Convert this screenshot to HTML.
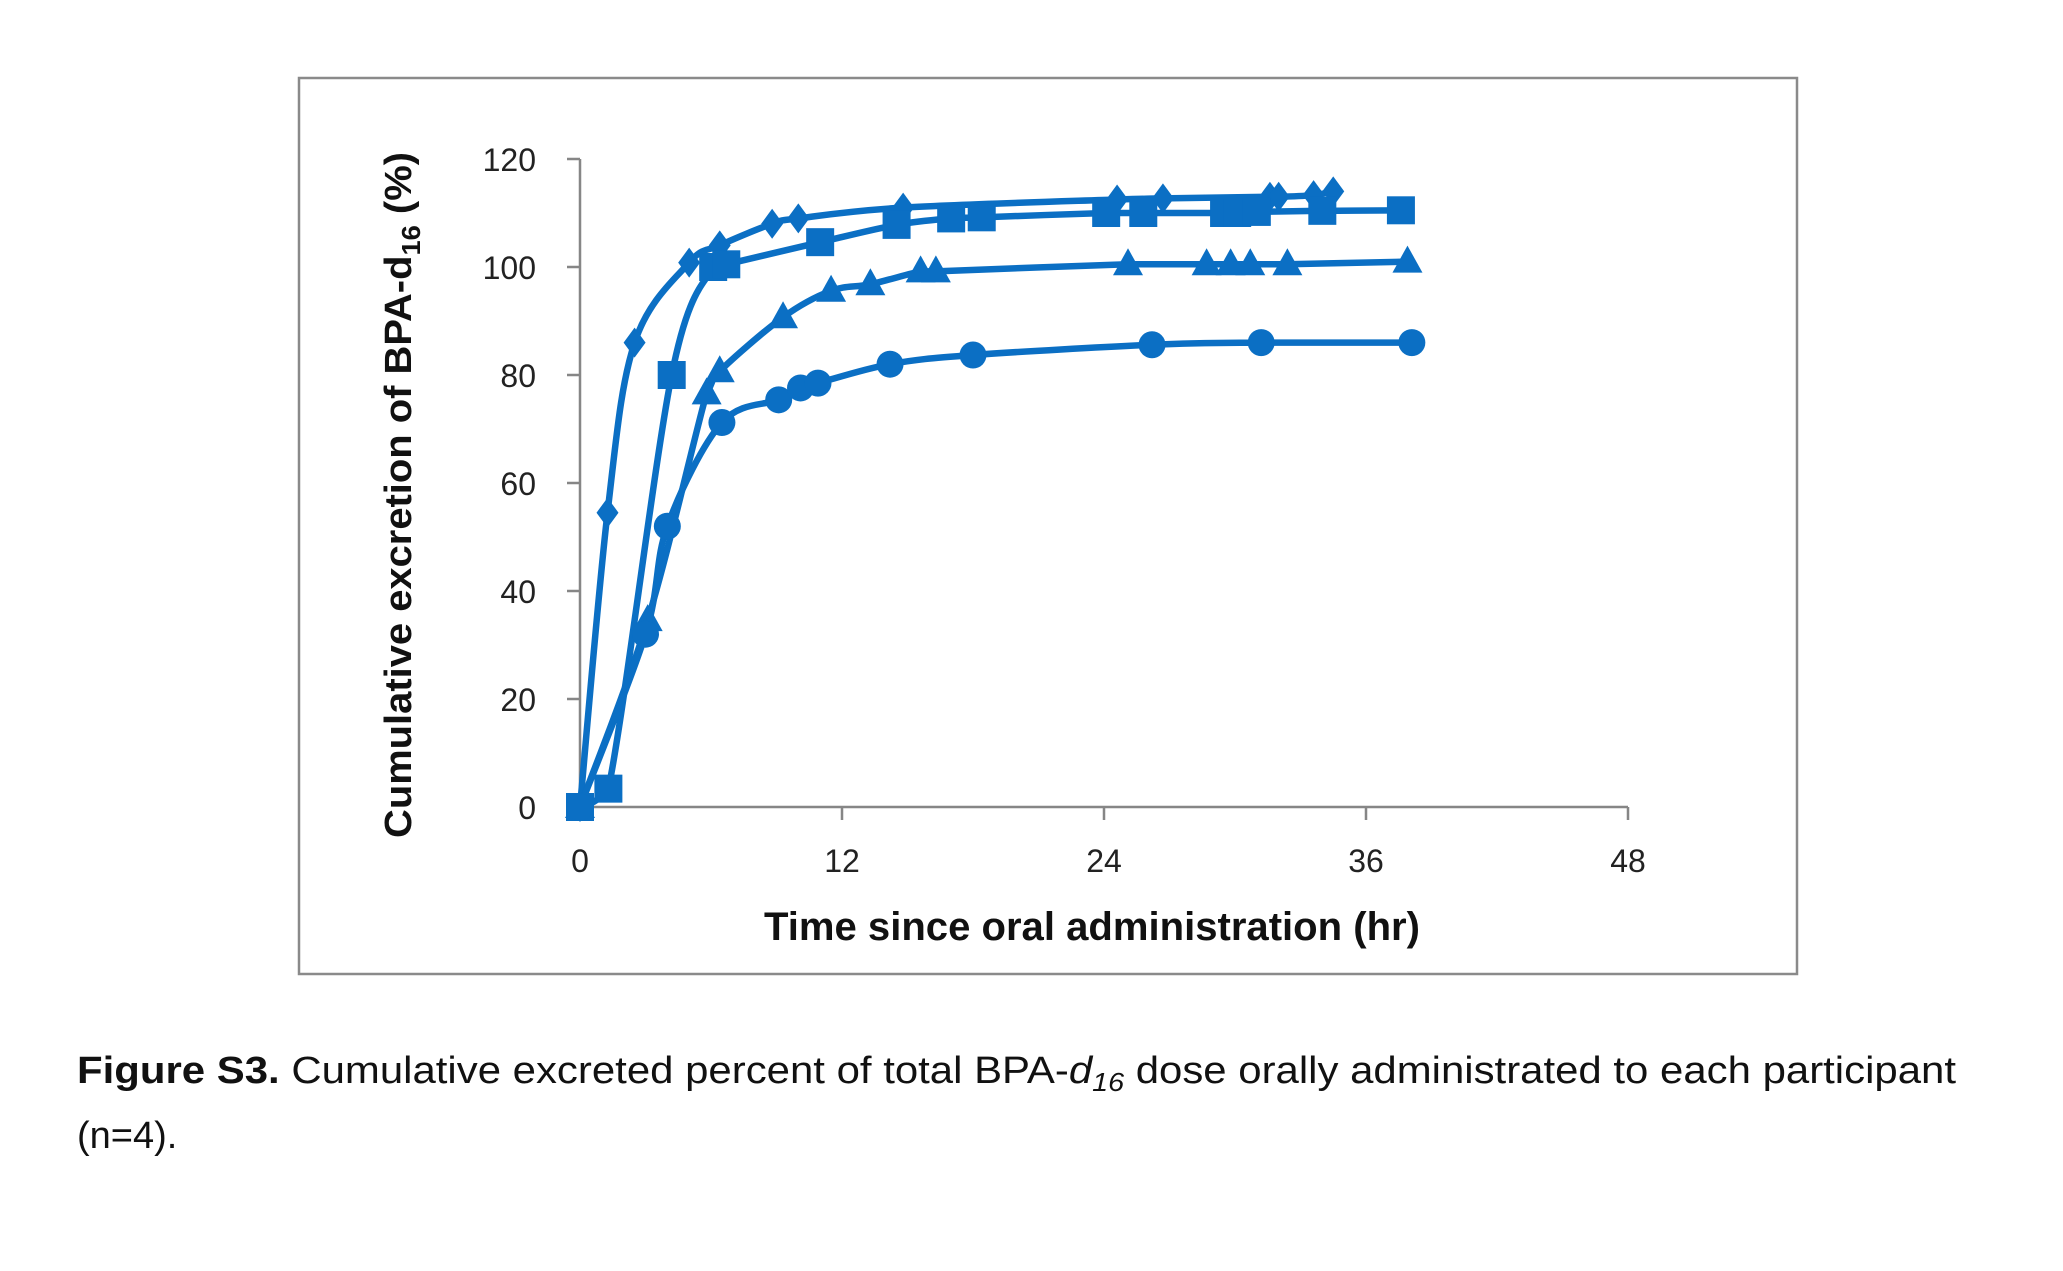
<!DOCTYPE html>
<html><head><meta charset="utf-8"><style>
html,body{margin:0;padding:0;background:#fff;}
svg{display:block;}
text{font-family:"Liberation Sans",sans-serif;}
</style></head><body>
<svg id="s" width="2063" height="1271" viewBox="0 0 2063 1271" xmlns="http://www.w3.org/2000/svg">
<rect x="0" y="0" width="2063" height="1271" fill="#fff"/>
<rect x="299" y="78" width="1498" height="896" fill="none" stroke="#8a8a8a" stroke-width="2.5"/>
<g stroke="#868686" stroke-width="2.5" fill="none">
<path d="M580 159 V807 H1628"/>
<path d="M567 159 H580 M567 267 H580 M567 375 H580 M567 483 H580 M567 591 H580 M567 699 H580 M567 807 H580"/>
<path d="M580 807 V820 M842 807 V820 M1104 807 V820 M1366 807 V820 M1628 807 V820"/>
</g>
<g font-size="32" fill="#222" text-anchor="end">
<text x="536" y="171">120</text><text x="536" y="279">100</text><text x="536" y="387">80</text>
<text x="536" y="495">60</text><text x="536" y="603">40</text><text x="536" y="711">20</text><text x="536" y="819">0</text>
</g>
<g font-size="32" fill="#222" text-anchor="middle">
<text x="580" y="872">0</text><text x="842" y="872">12</text><text x="1104" y="872">24</text><text x="1366" y="872">36</text><text x="1628" y="872">48</text>
</g>
<text x="1092" y="940" font-size="40" font-weight="bold" fill="#111" text-anchor="middle" textLength="656" lengthAdjust="spacingAndGlyphs">Time since oral administration (hr)</text>
<text transform="translate(411,495) rotate(-90)" font-size="38" font-weight="bold" fill="#111" text-anchor="middle" textLength="686" lengthAdjust="spacingAndGlyphs">Cumulative excretion of BPA-d<tspan font-size="26" dy="9">16</tspan><tspan dy="-9"> (%)</tspan></text>
<g id="plot"></g>
<text x="77" y="1083" font-size="38" fill="#111" textLength="1879" lengthAdjust="spacingAndGlyphs"><tspan font-weight="bold">Figure S3.</tspan> Cumulative excreted percent of total BPA-<tspan font-style="italic">d</tspan><tspan font-style="italic" font-size="26" dy="8">16</tspan><tspan dy="-8"> dose orally administrated to each participant</tspan></text>
<text x="77" y="1148" font-size="38" fill="#111">(n=4).</text>
</svg>
<script>
const X=h=>580+h*21.833, Y=v=>807-v*5.4;
const C="#0B6FC4";
const S={
d:[[0,0],[1.26,54.5],[2.5,86],[5,100.8],[6.4,104],[8.8,108],[10,109],[14.8,111],[24.6,112.5],[26.7,112.7],[31.6,113],[32,113],[33.6,113.3],[34.5,114]],
s:[[0,0],[1.3,3.4],[4.2,80],[6.1,100],[6.7,100.5],[11,104.6],[14.5,107.8],[17,109],[18.4,109.2],[24.1,110],[25.8,110],[29.5,110],[30.1,110],[31,110.2],[34,110.4],[37.6,110.5]],
t:[[0,0],[3.1,34.6],[5.8,76.6],[6.4,80.7],[9.3,90.7],[11.5,95.6],[13.3,96.8],[15.6,99.2],[16.3,99.2],[25.1,100.5],[28.7,100.5],[29.8,100.5],[30.7,100.5],[32.4,100.5],[37.9,101]],
c:[[0,0],[3,32],[4,52],[6.5,71.2],[9.1,75.4],[10.1,77.6],[10.9,78.5],[14.2,82],[18,83.7],[26.2,85.6],[31.2,86],[38.1,86]]
};
const g=document.getElementById('plot');let h='';
const cl=(v,a,b)=>Math.max(Math.min(a,b),Math.min(Math.max(a,b),v));
function path(p){p=p.map(a=>[X(a[0]),Y(a[1])]);let d='M'+p[0][0]+' '+p[0][1];
for(let i=0;i<p.length-1;i++){const p0=p[i-1]||p[i],p1=p[i],p2=p[i+1],p3=p[i+2]||p2;const k=6;
const c1x=p1[0]+(p2[0]-p0[0])/k, c1y=cl(p1[1]+(p2[1]-p0[1])/k,p1[1],p2[1]);
const c2x=p2[0]-(p3[0]-p1[0])/k, c2y=cl(p2[1]-(p3[1]-p1[1])/k,p1[1],p2[1]);
d+=` C${c1x} ${c1y} ${c2x} ${c2y} ${p2[0]} ${p2[1]}`;}
return d;}
for(const k in S){h+=`<path d="${path(S[k])}" fill="none" stroke="${C}" stroke-width="6.5" stroke-linejoin="round"/>`;
for(const a of S[k]){const x=X(a[0]),y=Y(a[1]);
if(k=='d')h+=`<path d="M${x} ${y-15}L${x+11} ${y}L${x} ${y+15}L${x-11} ${y}Z" fill="${C}"/>`;
if(k=='s')h+=`<rect x="${x-14}" y="${y-14}" width="28" height="28" fill="${C}"/>`;
if(k=='t')h+=`<path d="M${x} ${y-16}L${x+15} ${y+11}L${x-15} ${y+11}Z" fill="${C}"/>`;
if(k=='c')h+=`<circle cx="${x}" cy="${y}" r="13.5" fill="${C}"/>`;}}
g.innerHTML=h;
</script>
</body></html>
